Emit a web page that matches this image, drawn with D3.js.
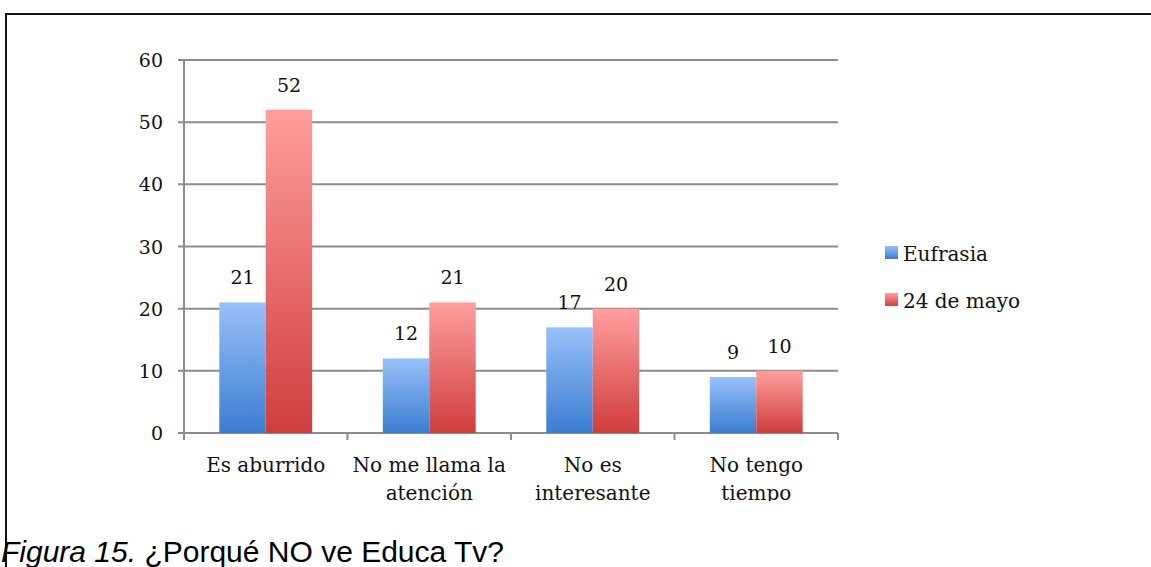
<!DOCTYPE html>
<html>
<head>
<meta charset="utf-8">
<script src="https://cdn.jsdelivr.net/npm/d3@7"></script>
<style>
  body { margin: 0; background: #fff; }
  svg { display: block; }
</style>
</head>
<body>
<div id="chart"></div>
<script>
// chart data
const categories = [["Es aburrido"], ["No me llama la", "atención"], ["No es", "interesante"], ["No tengo", "tiempo"]]
const seriesNames = ["Eufrasia", "24 de mayo"]
const eufrasia = [21, 12, 17, 9]
const mayo24 = [52, 21, 20, 10]
const yTicks = [0, 10, 20, 30, 40, 50, 60]
const caption = ["Figura 15.", " ¿Porqué NO ve Educa Tv?"]

const width = 1151, height = 567
const plot = {left: 184, right: 838, top: 60, bottom: 433}
const serif = "'DejaVu Serif', serif"

const svg = d3.select("#chart").append("svg")
    .attr("width", width)
    .attr("height", height)

// gradients for bars (light at the top, darker at the bottom)
const defs = svg.append("defs")
const grads = [
    {id: "g-blue", top: "#98c0f8", bottom: "#3b7dd1"},
    {id: "g-red", top: "#ff9e9e", bottom: "#d03d3d"}
]
grads.forEach(g => {
    const lg = defs.append("linearGradient")
        .attr("id", g.id)
        .attr("x1", 0).attr("y1", 0).attr("x2", 0).attr("y2", 1)
    lg.append("stop").attr("offset", "0%").attr("stop-color", g.top)
    lg.append("stop").attr("offset", "100%").attr("stop-color", g.bottom)
})
defs.append("clipPath").attr("id", "chart-clip")
    .append("rect").attr("x", 0).attr("y", 0).attr("width", width).attr("height", 501)

// frame around the figure
svg.append("line")
    .attr("x1", 6).attr("y1", 14).attr("x2", width).attr("y2", 14)
    .style("stroke", "#111").style("stroke-width", 2)
svg.append("line")
    .attr("x1", 6).attr("y1", 13).attr("x2", 6).attr("y2", height)
    .style("stroke", "#111").style("stroke-width", 2)

const labels = categories.map(d => d.join(" "))

const x = d3.scaleBand()
    .domain(labels)
    .range([plot.left, plot.right])

const xInner = d3.scaleBand()
    .domain(seriesNames)
    .range([0, x.bandwidth()])
    .paddingOuter(0.76)

const y = d3.scaleLinear()
    .domain([0, 60])
    .range([plot.bottom, plot.top])

const chart = svg.append("g").attr("clip-path", "url(#chart-clip)")

// gridlines
chart.selectAll(".grid")
    .data(yTicks)
    .enter().append("line")
    .attr("x1", plot.left - 6)
    .attr("x2", plot.right)
    .attr("y1", d => y(d))
    .attr("y2", d => y(d))
    .style("stroke", "#8c8c8c")
    .style("stroke-width", 2)

// y axis line
chart.append("line")
    .attr("x1", plot.left).attr("x2", plot.left)
    .attr("y1", y(60)).attr("y2", plot.bottom + 7)
    .style("stroke", "#8c8c8c")
    .style("stroke-width", 2)

// x ticks at band edges
const edges = labels.map(d => x(d)).concat([plot.right])
chart.selectAll(".xtick")
    .data(edges.slice(1))
    .enter().append("line")
    .attr("x1", d => d).attr("x2", d => d)
    .attr("y1", plot.bottom).attr("y2", plot.bottom + 7)
    .style("stroke", "#8c8c8c")
    .style("stroke-width", 2)

// y tick labels
chart.selectAll(".ylabel")
    .data(yTicks)
    .enter().append("text")
    .attr("text-anchor", "end")
    .attr("x", plot.left - 21)
    .attr("y", d => y(d) + 7)
    .text(d => d)
    .style("font", "19px " + serif)
    .style("fill", "#111")

// bars
const rows = labels.map((c, i) => [
    {cat: c, name: seriesNames[0], value: eufrasia[i], fill: "url(#g-blue)"},
    {cat: c, name: seriesNames[1], value: mayo24[i], fill: "url(#g-red)"}
]).flat()

chart.selectAll(".bar")
    .data(rows)
    .enter().append("rect")
    .attr("x", d => x(d.cat) + xInner(d.name))
    .attr("y", d => y(d.value))
    .attr("width", xInner.bandwidth())
    .attr("height", d => y(0) - y(d.value))
    .style("fill", d => d.fill)

// value labels
chart.selectAll(".value")
    .data(rows)
    .enter().append("text")
    .attr("text-anchor", "middle")
    .attr("x", d => x(d.cat) + xInner(d.name) + xInner.bandwidth() / 2)
    .attr("y", d => y(d.value) - 18)
    .text(d => d.value)
    .style("font", "19px " + serif)
    .style("fill", "#111")

// category labels (wrapped)
categories.forEach((lines, i) => {
    const t = chart.append("text")
        .attr("text-anchor", "middle")
        .attr("x", x(labels[i]) + x.bandwidth() / 2)
        .attr("y", 472)
        .style("font", "20px " + serif)
        .style("fill", "#111")
    lines.forEach((l, j) => {
        t.append("tspan")
            .attr("x", x(labels[i]) + x.bandwidth() / 2)
            .attr("dy", j === 0 ? 0 : 28)
            .text(l)
    })
})

// legend
const legend = svg.selectAll(".legend")
    .data(seriesNames)
    .enter().append("g")
    .attr("transform", (d, i) => "translate(885," + (246 + i * 47) + ")")
legend.append("rect")
    .attr("width", 13).attr("height", 13)
    .style("fill", (d, i) => "url(#" + grads[i].id + ")")
legend.append("text")
    .attr("x", 18).attr("y", 15)
    .text(d => d)
    .style("font", "20px " + serif)
    .style("fill", "#111")

// caption
const cap = svg.append("text")
    .attr("x", 1).attr("y", 562)
    .style("font", "30px 'Liberation Sans', Arial, sans-serif")
    .style("fill", "#000")
cap.append("tspan").style("font-style", "italic").text(caption[0])
cap.append("tspan").text(caption[1])
</script>
</body>
</html>
